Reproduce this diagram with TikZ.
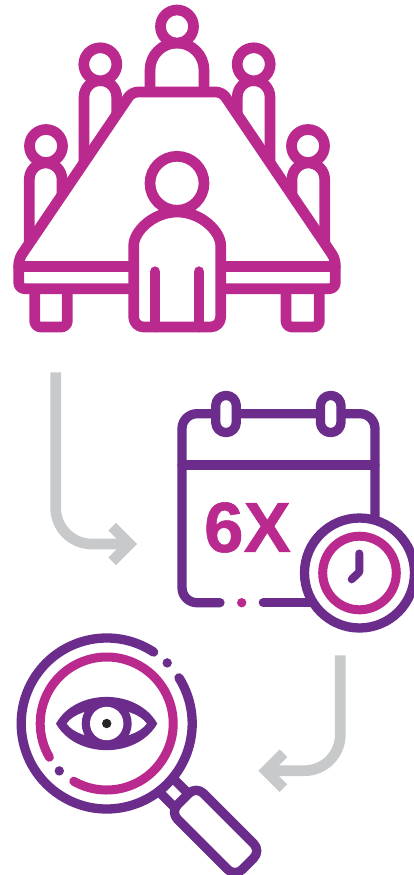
\documentclass[tikz,border=0pt]{standalone}
\usepackage{fontspec}
\usetikzlibrary{calc}
\setmainfont{Liberation Sans}[BoldFeatures={FakeBold=0.8}]
\definecolor{pinkc}{RGB}{186,41,142}
\definecolor{purplec}{RGB}{107,44,140}
\definecolor{greyc}{RGB}{200,201,202}
\begin{document}
\begin{tikzpicture}[x=1pt,y=-1pt,line cap=round,line join=round,
  pinkl/.style={draw=pinkc,line width=10.7pt},
  pinkt/.style={draw=pinkc,line width=9pt},
  purp/.style={draw=purplec,line width=9.3pt},
  grey/.style={draw=greyc,line width=10.7pt,line cap=butt,line join=miter}]
\useasboundingbox[fill=white] (0,0) rectangle (413,875);

\coordinate (C)  at (359.5,573);
\coordinate (M)  at (106.7,723.5);
\coordinate (NU1) at (174.5,779.7);
\coordinate (NU2) at (190.1,795.3);
\coordinate (NL1) at (160.7,793.5);
\coordinate (NL2) at (176.3,809.1);

% People behind the table.
\draw[pinkl] (84,170) -- (84,97) arc[start angle=180,end angle=360,radius=16.35] -- (116.7,120);
\draw[pinkl,fill=white] (100.3,64.3) circle (16.5);
\draw[pinkl] (29.3,250) -- (29.3,179.3) arc[start angle=180,end angle=360,radius=16.35] -- (62,200);
\draw[pinkl,fill=white] (46,146) circle (16.5);
\draw[pinkl] (270,170) -- (270,97) arc[start angle=0,end angle=-180,radius=16.35] -- (237.3,120);
\draw[pinkl,fill=white] (253.7,64.3) circle (16.5);
\draw[pinkl] (324.7,250) -- (324.7,179.3) arc[start angle=0,end angle=-180,radius=16.35] -- (292,200);
\draw[pinkl,fill=white] (308,146) circle (16.5);
\draw[pinkl] (150,92) -- (150,70) arc[start angle=180,end angle=360,radius=27] -- (204,92);
\draw[pinkl,fill=white] (177,26.5) circle (16.5);

% Table and its legs.
\draw[pinkl,rounded corners=6] (34.7,288.7) -- (34.7,327) -- (67.3,327) -- (67.3,288.7);
\draw[pinkl,rounded corners=6] (286,288.7) -- (286,327) -- (319.3,327) -- (319.3,288.7);
\draw[pinkl,fill=white,rounded corners=6] (177,288.7) -- (18.7,288.7) -- (18.7,259) -- (131.9,92)
  -- (222.1,92) -- (335.3,259) -- (335.3,288.7) -- cycle;
\draw[pinkl] (18.7,266.8) -- (335.3,266.8);

% Person in front.
\draw[pinkl,fill=white,rounded corners=10] (133.7,255.5) arc[start angle=180,end angle=360,radius=43.5]
  -- (220.7,327) -- (133.7,327) -- cycle;
\draw[pinkl,fill=white] (177,183.3) circle (27);
\draw[pinkl] (155,271.7) -- (155,327);
\draw[pinkl] (199,271.7) -- (199,327);

% Grey arrows.
\draw[grey,rounded corners=36] (55.7,372.3) -- (55.7,544) -- (129.5,544);
\draw[grey] (112.2,526.7) -- (129.5,544) -- (112.2,561.3);
\draw[grey,rounded corners=36] (340.3,655.3) -- (340.3,770.7) -- (266,770.7);
\draw[grey] (283.5,753.2) -- (266,770.7) -- (283.5,788.2);

% Calendar.
\draw[purp,rounded corners=15] (220,602.7) -- (182,602.7) -- (182,413.7) -- (375,413.7) -- (375,525);
\draw[purp] (182,465) -- (375,465);
\draw[purp] (263.3,602.7) -- (315,602.7);
\draw[purp,fill=white,rounded corners=10.3] (215.7,395.4) rectangle (236.3,432.6);
\draw[purp,fill=white,rounded corners=10.3] (320.4,395.4) rectangle (341,432.6);
\fill[pinkc] (241.7,602.7) circle (4.7);
\node[inner sep=0pt,text=pinkc,font=\fontsize{71}{71}\selectfont\bfseries] (sixx) at (247.5,527.5) {6X};

% Clock.
\draw[purp,fill=white] (C) circle (55);
\draw[pinkt] (C) circle (36.8);
\draw[draw=purplec,line width=8pt] (359.3,553.5) -- (359.3,572) -- (351.7,579.3);

% Magnifying glass handle.
\draw[purp] (NU1) -- (NU2);
\draw[purp] (NL1) -- (NL2);
\draw[purp,fill=white,rounded corners=10] (196.15,786.15) -- (260.85,850.85) -- (235,876.7) -- (170.3,812) -- cycle;

% Lens rings with their gaps.
\draw[purp] ($(M)+(-56.7:85.5)$) arc[start angle=-56.7,end angle=-392.3,radius=85.5];
\fill[purplec] (167.2,662.9) circle (4.7);
\draw[pinkt] ($(M)+(-240.3:66.5)$) arc[start angle=-240.3,end angle=-570.5,radius=66.5];
\fill[purplec] (59.3,770.9) circle (4.7);

% Eye.
\fill[purplec] (56,723.6) .. controls (76,688) and (137,688) .. (157.3,723.6)
  .. controls (137,759) and (76,759) .. (56,723.6) -- cycle;
\fill[white] (66.7,723.6) .. controls (80,704) and (133,704) .. (146.7,723.6)
  .. controls (133,743) and (80,743) .. (66.7,723.6) -- cycle;
\fill[purplec] (M) circle (25);
\fill[white] (M) circle (16.7);
\fill[black!85] (M) circle (4.7);
\end{tikzpicture}
\end{document}
